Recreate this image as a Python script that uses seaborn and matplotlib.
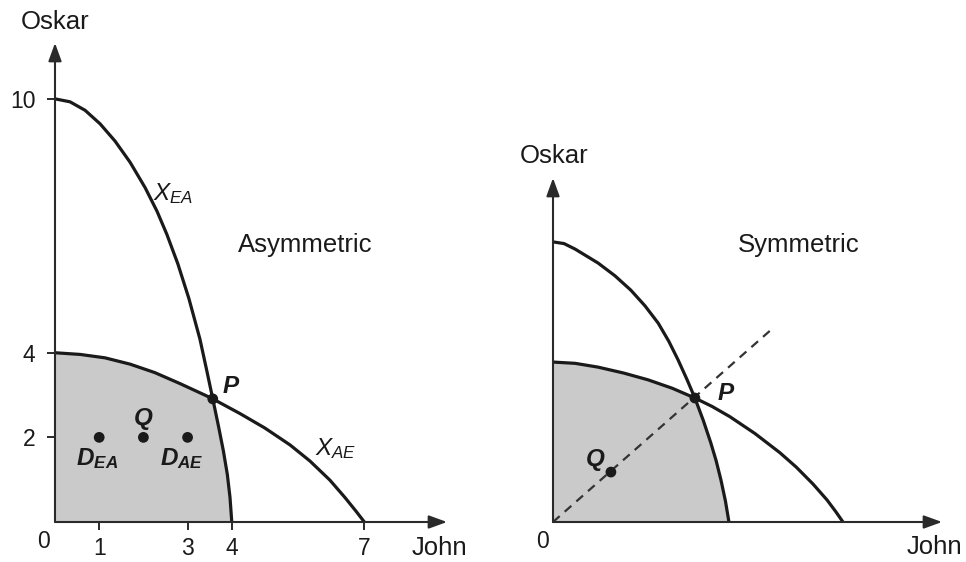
import numpy as np
import pandas as pd
import matplotlib
matplotlib.use("Agg")
import matplotlib.pyplot as plt
import seaborn as sns

# ---------------- data ----------------
# Left panel: asymmetric case
ea_john = [0, 0.34, 0.68, 1.02, 1.36, 1.70, 2.04, 2.31, 2.53, 2.78, 3.03, 3.28, 3.44,
           3.57, 3.70, 3.81, 3.90, 3.96, 4.0]
ea_oskar = [10, 9.93, 9.73, 9.41, 9.00, 8.50, 7.90, 7.34, 6.80, 6.10, 5.28, 4.32, 3.55,
            2.91, 2.26, 1.68, 1.12, 0.58, 0]
ae_john = [0, 0.57, 1.13, 1.70, 2.26, 2.83, 3.39, 3.57, 4.19, 4.75, 5.32, 5.77, 6.22,
           6.56, 6.80, 7.0]
ae_oskar = [4.0, 3.96, 3.88, 3.73, 3.53, 3.27, 3.00, 2.91, 2.56, 2.22, 1.82, 1.44, 0.99,
            0.58, 0.27, 0]
p_left = (3.57, 2.91)
dots_john = [1, 2, 3]
dots_oskar = [2, 2, 2]
left_xticks = [1, 3, 4, 7]
left_yticks = [2, 4, 10]

# Right panel: symmetric case
sa_john = [0, 0.25, 0.50, 1.02, 1.40, 1.76, 2.08, 2.38, 2.62, 2.83, 3.03, 3.21, 3.40,
           3.57, 3.69, 3.80, 3.90, 3.98]
sa_oskar = [6.62, 6.58, 6.45, 6.12, 5.82, 5.48, 5.11, 4.70, 4.27, 3.83, 3.37, 2.93, 2.40,
            1.87, 1.45, 0.99, 0.50, 0]
sb_john = [0, 0.5, 1.02, 1.6, 2.15, 2.7, 3.21, 3.6, 4.0, 4.57, 5.13, 5.5, 5.88, 6.2,
           6.4, 6.56]
sb_oskar = [3.78, 3.75, 3.66, 3.52, 3.36, 3.16, 2.93, 2.73, 2.49, 2.09, 1.64, 1.30, 0.90,
            0.52, 0.24, 0]
p_right = (3.21, 2.93)
diag_john = [0, 4.93]
diag_oskar = [0, 4.54]
q_right = (1.31, 1.18)

# ---------------- style ----------------
sns.set_theme(style="white")
plt.rcParams["font.family"] = ["Liberation Sans", "DejaVu Sans"]
plt.rcParams["mathtext.fontset"] = "custom"
plt.rcParams["mathtext.it"] = "Liberation Sans:italic"
plt.rcParams["mathtext.rm"] = "Liberation Sans"
plt.rcParams["mathtext.bf"] = "Liberation Sans:italic:bold"
plt.rcParams["lines.solid_joinstyle"] = "round"
plt.rcParams["lines.solid_capstyle"] = "round"

INK = "#1a1a1a"
AXC = "#2a2a2a"
GRAY = "#cacaca"
FS = 18.5

fig = plt.figure(figsize=(9.66, 5.62), dpi=100)
axL = fig.add_axes([55 / 966, 40 / 562, 392 / 966, 479 / 562])
axR = fig.add_axes([553 / 966, 40 / 562, 389 / 966, 344 / 562])


def arrows(ax):
    for s in ax.spines.values():
        s.set_visible(False)
    kw = dict(arrowstyle="-|>,head_length=0.55,head_width=0.2", color=AXC,
              lw=1.5, shrinkA=0, shrinkB=0, mutation_scale=20)
    ax.annotate("", xy=(1, 0), xytext=(0, 0), xycoords="axes fraction",
                textcoords="axes fraction", arrowprops=kw, annotation_clip=False)
    ax.annotate("", xy=(0, 1), xytext=(0, 0), xycoords="axes fraction",
                textcoords="axes fraction", arrowprops=kw, annotation_clip=False)


def shade(ax, cx, cy, dx, dy, p):
    # region below both frontiers: along the flat curve up to P, then down the steep one
    px, py = p
    xs = [0] + [x for x in cx if x <= px] + [x for x, y in zip(dx, dy) if y < py] + [0]
    ys = [0] + [y for x, y in zip(cx, cy) if x <= px] + [y for y in dy if y < py] + [0]
    ax.fill(xs, ys, color=GRAY, lw=0, zorder=0)


def curve(ax, x, y):
    sns.lineplot(x=x, y=y, ax=ax, color=INK, lw=2.3, sort=False, estimator=None)


# ---------------- left panel ----------------
ax = axL
shade(ax, ae_john, ae_oskar, ea_john, ea_oskar, p_left)
curve(ax, ea_john, ea_oskar)
curve(ax, ae_john, ae_oskar)
sns.scatterplot(x=dots_john + [p_left[0]], y=dots_oskar + [p_left[1]], ax=ax,
                color=INK, s=60, edgecolor="none", zorder=5)
ax.set_xlim(0, 8.87)
ax.set_ylim(0, 11.32)
arrows(ax)
ax.set_xticks(left_xticks)
ax.set_xticklabels([str(t) for t in left_xticks])
ax.set_yticks(left_yticks)
ax.set_yticklabels([str(t) for t in left_yticks])
ax.tick_params(axis="both", bottom=True, left=True, direction="out", length=6,
               width=1.4, color=AXC, labelsize=16.5, labelcolor=INK)
ax.tick_params(axis="x", pad=5)
ax.tick_params(axis="y", pad=8)
ax.set_xlabel("")
ax.set_ylabel("")

ax.text(0, 11.82, "Oskar", fontsize=FS, color=INK, ha="center", va="center", clip_on=False)
ax.text(8.69, -0.62, "John", fontsize=FS, color=INK, ha="center", va="center", clip_on=False)
ax.text(-0.27, -0.47, "0", fontsize=16.5, color=INK, ha="center", va="center", clip_on=False)
ax.text(2.22, 7.61, r"$X_{EA}$", fontsize=17.5, color=INK, ha="left", va="baseline")
ax.text(5.88, 1.58, r"$X_{AE}$", fontsize=17.5, color=INK, ha="left", va="baseline")
ax.text(4.14, 6.55, "Asymmetric", fontsize=FS, color=INK, ha="left", va="center")
ax.text(3.78, 3.05, r"$\mathbf{P}$", fontsize=17.5, color=INK, ha="left", va="baseline")
ax.text(dots_john[1], 2.43, r"$\mathbf{Q}$", fontsize=17.5, color=INK, ha="center", va="center")
ax.text(dots_john[0] - 0.05, 1.35, r"$\mathbf{D_{EA}}$", fontsize=17.5, color=INK,
        ha="center", va="baseline")
ax.text(dots_john[2] - 0.12, 1.35, r"$\mathbf{D_{AE}}$", fontsize=17.5, color=INK,
        ha="center", va="baseline")

# ---------------- right panel ----------------
ax = axR
shade(ax, sb_john, sb_oskar, sa_john, sa_oskar, p_right)
curve(ax, sa_john, sa_oskar)
curve(ax, sb_john, sb_oskar)
sns.lineplot(x=diag_john, y=diag_oskar, ax=ax, color="#333333", lw=1.6, sort=False,
             estimator=None, linestyle=(0, (4, 3)))
sns.scatterplot(x=[p_right[0], q_right[0]], y=[p_right[1], q_right[1]], ax=ax,
                color=INK, s=60, edgecolor="none", zorder=5)
ax.set_xlim(0, 8.80)
ax.set_ylim(0, 8.13)
arrows(ax)
ax.set_xticks([])
ax.set_yticks([])
ax.set_xlabel("")
ax.set_ylabel("")

ax.text(0.02, 8.65, "Oskar", fontsize=FS, color=INK, ha="center", va="center", clip_on=False)
ax.text(8.64, -0.60, "John", fontsize=FS, color=INK, ha="center", va="center", clip_on=False)
ax.text(-0.23, -0.45, "0", fontsize=16.5, color=INK, ha="center", va="center", clip_on=False)
ax.text(4.19, 6.55, "Symmetric", fontsize=FS, color=INK, ha="left", va="center")
ax.text(3.71, 2.88, r"$\mathbf{P}$", fontsize=17.5, color=INK, ha="left", va="baseline")
ax.text(0.95, 1.47, r"$\mathbf{Q}$", fontsize=17.5, color=INK, ha="center", va="center")

fig.savefig("out.png", dpi=100, facecolor="white")
